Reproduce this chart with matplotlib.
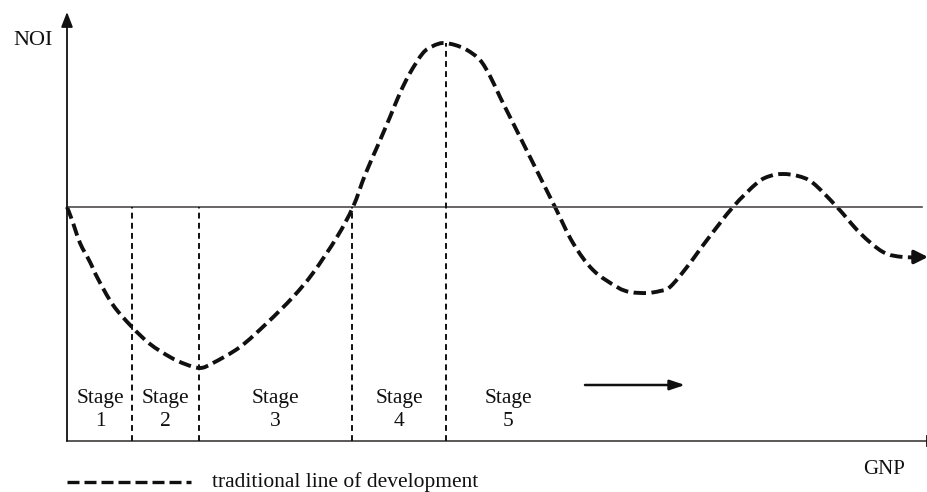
import matplotlib
matplotlib.use("Agg")
import matplotlib.pyplot as plt
from matplotlib.path import Path
from matplotlib.patches import PathPatch

plt.rcParams['font.family'] = ['Liberation Serif', 'DejaVu Serif']

# curve: GNP (px from the y axis), NOI (px above the zero line)
gnp = [0, 5, 13, 23, 30, 46, 65, 83, 103, 118, 133, 146, 173, 200, 226, 246,
       270, 286, 298, 311, 323, 333, 343, 356, 366, 376, 388, 400, 413, 423,
       433, 443, 453, 473, 488, 506, 526, 550, 563, 580, 593, 603, 620, 640,
       666, 690, 703, 716, 731, 746, 770, 793, 816, 836, 858]
noi = [0, -13, -36, -55, -70, -98, -120, -137, -150, -157, -161, -156, -140,
       -116, -90, -66, -30, 0, 32, 62, 90, 114, 134, 154, 161, 164, 162, 157,
       147, 131, 110, 90, 70, 30, 0, -36, -63, -80, -85, -86, -84, -80, -60,
       -33, 0, 24, 31, 33, 31, 24, 0, -26, -45, -50, -50]

stage_edges = [65, 132, 285, 379]
stage_lines_top = [0, 0, 0, 164]
stage_names = ['Stage\n1', 'Stage\n2', 'Stage\n3', 'Stage\n4', 'Stage\n5']
stage_centres = [33, 98, 208, 332, 441]

fig = plt.figure(figsize=(9.28, 4.92), dpi=100)
ax = fig.add_axes([0, 0, 1, 1])
ax.set_xlim(-67, 861)
ax.set_ylim(-285, 207)
ax.axis('off')

axis_col = '#4d4a4a'
ink = '#111010'
bottom = -234

# axes
ax.annotate('', xy=(0, 195), xytext=(0, bottom),
            arrowprops=dict(arrowstyle='-|>,head_length=0.9,head_width=0.35',
                            color=ink, lw=1.3, shrinkA=0, shrinkB=0))
ax.plot([0, 860], [bottom, bottom], color=axis_col, lw=1.3)
ax.plot([860, 860], [bottom - 5, bottom + 5], color=ink, lw=1.3)
ax.plot([0, 855], [0, 0], color=axis_col, lw=1.2)

# stage separators
for xe, top in zip(stage_edges, stage_lines_top):
    ax.plot([xe, xe], [bottom, top], color=ink, lw=1.4,
            linestyle=(0, (3, 2.2)))

# development curve, smoothed through the read points (Catmull-Rom as cubic Beziers)
pts = list(zip(gnp, noi))
verts = [pts[0]]
codes = [Path.MOVETO]
for i in range(len(pts) - 1):
    p0 = pts[max(i - 1, 0)]
    p1 = pts[i]
    p2 = pts[i + 1]
    p3 = pts[min(i + 2, len(pts) - 1)]
    c1 = (p1[0] + (p2[0] - p0[0]) / 6, p1[1] + (p2[1] - p0[1]) / 6)
    c2 = (p2[0] - (p3[0] - p1[0]) / 6, p2[1] - (p3[1] - p1[1]) / 6)
    verts += [c1, c2, p2]
    codes += [Path.CURVE4] * 3
curve = PathPatch(Path(verts, codes), facecolor='none', edgecolor=ink,
                  lw=2.8, linestyle=(0, (3.2, 1.4)), capstyle='butt')
ax.add_patch(curve)
ax.annotate('', xy=(gnp[-1] + 3, noi[-1]), xytext=(gnp[-1] - 10, noi[-1]),
            arrowprops=dict(arrowstyle='-|>,head_length=0.8,head_width=0.4',
                            color=ink, lw=2.5, shrinkA=0, shrinkB=0))

for xc, name in zip(stage_centres, stage_names):
    ax.text(xc, -203, name, ha='center', va='center', fontsize=15.5,
            color=ink, linespacing=1.3)

ax.annotate('', xy=(618, -178), xytext=(518, -178),
            arrowprops=dict(arrowstyle='-|>,head_length=0.9,head_width=0.3',
                            color=ink, lw=1.8, shrinkA=0, shrinkB=0))

ax.text(-34, 166, 'NOI', ha='center', va='center', fontsize=16, color=ink)
ax.text(817, -263, 'GNP', ha='center', va='center', fontsize=15, color=ink)

# legend
ax.plot([0, 124], [-275, -275], color=ink, lw=2.4,
        linestyle=(0, (3.6, 1.5)))
ax.text(145, -275, 'traditional line of development', ha='left',
        va='center', fontsize=15.5, color=ink)

fig.savefig('out.png', dpi=100)
